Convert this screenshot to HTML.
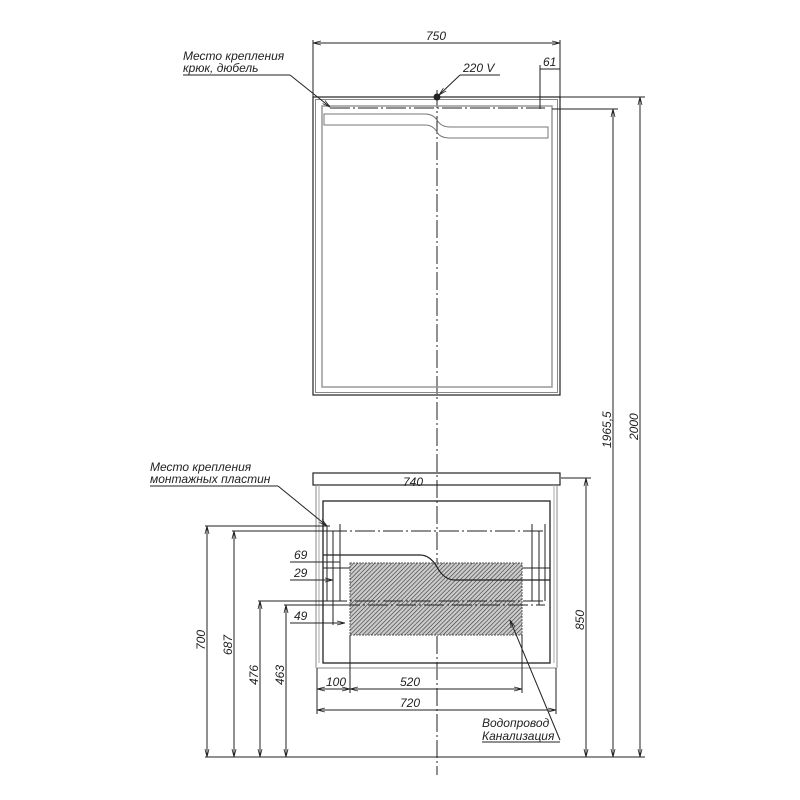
<!DOCTYPE html>
<html><head><meta charset="utf-8"><style>
html,body{margin:0;padding:0;background:#fff;}
svg{display:block;}
text{font-family:"Liberation Sans",sans-serif;font-style:italic;font-size:12px;fill:#222;}
</style></head><body>
<svg width="800" height="800" viewBox="0 0 800 800" xmlns="http://www.w3.org/2000/svg">
<defs>
<pattern id="h" width="3" height="3" patternUnits="userSpaceOnUse" patternTransform="rotate(45)">
<rect width="3" height="3" fill="#ccc"/><line x1="0" y1="0" x2="0" y2="3" stroke="#333" stroke-width="1.2"/>
</pattern>
<marker id="a" markerWidth="8" markerHeight="6" refX="8" refY="3" orient="auto-start-reverse" markerUnits="userSpaceOnUse"><path d="M0,1 L8,3 L0,5" fill="none" stroke="#222" stroke-width="0.8"/></marker>
</defs>
<g stroke="#222" stroke-width="1" fill="none">
<line x1="437" y1="90" x2="437" y2="775" stroke-dasharray="18,3,2,3"/>
<rect x="313" y="97" width="247" height="298" stroke-width="1.2"/>
<rect x="315.5" y="99.5" width="242" height="293" stroke="#888"/>
<rect x="322" y="106" width="230" height="281" stroke="#999" stroke-width="1.5"/>
<line x1="330" y1="108" x2="545" y2="108" stroke-dasharray="20,3,2,3"/>
<path d="M324,114 H425 Q433,114 437,120 Q441,127 450,127 H548 V138 H450 Q440,138 437,132 Q433,125 425,125 H324 Z" stroke="#777"/>
<circle cx="437" cy="97" r="3" fill="#222"/>
<line x1="313" y1="40" x2="313" y2="97"/><line x1="560" y1="40" x2="560" y2="97"/>
<line x1="313" y1="43" x2="560" y2="43" marker-start="url(#a)" marker-end="url(#a)"/>
<line x1="540" y1="65" x2="540" y2="109"/>
<line x1="540" y1="69" x2="560" y2="69"/>
<line x1="183" y1="75" x2="290" y2="75"/><line x1="290" y1="75" x2="330" y2="107" marker-end="url(#a)"/>
<line x1="460" y1="75" x2="500" y2="75"/><line x1="460" y1="75" x2="439" y2="95" marker-end="url(#a)"/>
<line x1="560" y1="97" x2="645" y2="97"/>
<line x1="552" y1="109" x2="618" y2="109"/>
<line x1="640" y1="97" x2="640" y2="757" marker-start="url(#a)" marker-end="url(#a)"/>
<line x1="613" y1="109" x2="613" y2="757" marker-start="url(#a)" marker-end="url(#a)"/>
<line x1="561" y1="478" x2="591" y2="478"/>
<line x1="586" y1="478" x2="586" y2="757" marker-start="url(#a)" marker-end="url(#a)"/>
<line x1="205" y1="757" x2="645" y2="757"/>
<rect x="313" y="473" width="247" height="12" stroke-width="1.2"/>
<line x1="316" y1="485" x2="316" y2="668" stroke="#888"/>
<line x1="557" y1="485" x2="557" y2="668" stroke="#888"/>
<line x1="319" y1="485" x2="319" y2="663" stroke="#aaa"/>
<line x1="554" y1="485" x2="554" y2="663" stroke="#aaa"/>
<rect x="323" y="501" width="227" height="162" stroke-width="1.3"/>
<line x1="317" y1="668" x2="556" y2="668" stroke="#888"/>
<rect x="350" y="563" width="172" height="72" fill="url(#h)" stroke="#555" stroke-dasharray="2,1"/>
<path d="M323,555 H420 Q430,555 437,567 Q444,580 455,580 H550" stroke-width="1.2"/>
<path d="M323,568 H350 M522,568 H550" />
<line x1="327" y1="531" x2="545" y2="531" stroke-dasharray="20,3,2,3"/>
<line x1="327" y1="601" x2="545" y2="601" stroke-dasharray="20,3,2,3"/>
<line x1="340" y1="605" x2="545" y2="605" stroke-dasharray="20,3,2,3"/>
<line x1="327" y1="526" x2="327" y2="601"/><line x1="333" y1="531" x2="333" y2="625"/><line x1="340" y1="524" x2="340" y2="601"/>
<line x1="532" y1="524" x2="532" y2="601"/><line x1="539" y1="531" x2="539" y2="605"/><line x1="545" y1="524" x2="545" y2="601"/>
<line x1="205" y1="526" x2="330" y2="526"/><line x1="207" y1="526" x2="207" y2="757" marker-start="url(#a)" marker-end="url(#a)"/>
<line x1="232" y1="531" x2="330" y2="531"/><line x1="234" y1="531" x2="234" y2="757" marker-start="url(#a)" marker-end="url(#a)"/>
<line x1="258" y1="601" x2="330" y2="601"/><line x1="260" y1="601" x2="260" y2="757" marker-start="url(#a)" marker-end="url(#a)"/>
<line x1="284" y1="605" x2="340" y2="605"/><line x1="286" y1="605" x2="286" y2="757" marker-start="url(#a)" marker-end="url(#a)"/>
<line x1="290" y1="562" x2="340" y2="562"/>
<line x1="290" y1="580" x2="333" y2="580" marker-end="url(#a)"/>
<line x1="290" y1="623" x2="345" y2="623" marker-end="url(#a)"/>
<line x1="317" y1="668" x2="317" y2="714"/><line x1="350" y1="635" x2="350" y2="693"/><line x1="522" y1="635" x2="522" y2="693"/><line x1="556" y1="668" x2="556" y2="714"/>
<line x1="317" y1="689" x2="350" y2="689" marker-start="url(#a)" marker-end="url(#a)"/>
<line x1="350" y1="689" x2="522" y2="689" marker-start="url(#a)" marker-end="url(#a)"/>
<line x1="317" y1="710" x2="556" y2="710" marker-start="url(#a)" marker-end="url(#a)"/>
<line x1="150" y1="486" x2="278" y2="486"/><line x1="278" y1="486" x2="327" y2="526" marker-end="url(#a)"/>
<line x1="560" y1="740" x2="510" y2="620" marker-end="url(#a)"/>
</g>
<text x="183" y="60">Место крепления</text>
<text x="183" y="72">крюк, дюбель</text>
<text x="463" y="72">220 V</text>
<text x="426" y="40">750</text>
<text x="543" y="66">61</text>
<text x="150" y="471">Место крепления</text>
<text x="150" y="483">монтажных пластин</text>
<text x="403" y="486">740</text>
<text x="294" y="559">69</text>
<text x="294" y="577">29</text>
<text x="294" y="620">49</text>
<text x="326" y="686">100</text>
<text x="400" y="686">520</text>
<text x="400" y="707">720</text>
<text x="482" y="727">Водопровод</text>
<text x="482" y="740">Канализация</text>
<line x1="482" y1="742" x2="560" y2="742" stroke="#222"/>
<text transform="translate(205,650) rotate(-90)">700</text>
<text transform="translate(232,655) rotate(-90)">687</text>
<text transform="translate(258,685) rotate(-90)">476</text>
<text transform="translate(284,685) rotate(-90)">463</text>
<text transform="translate(584,630) rotate(-90)">850</text>
<text transform="translate(611,448) rotate(-90)">1965,5</text>
<text transform="translate(638,440) rotate(-90)">2000</text>
</svg>
</body></html>
